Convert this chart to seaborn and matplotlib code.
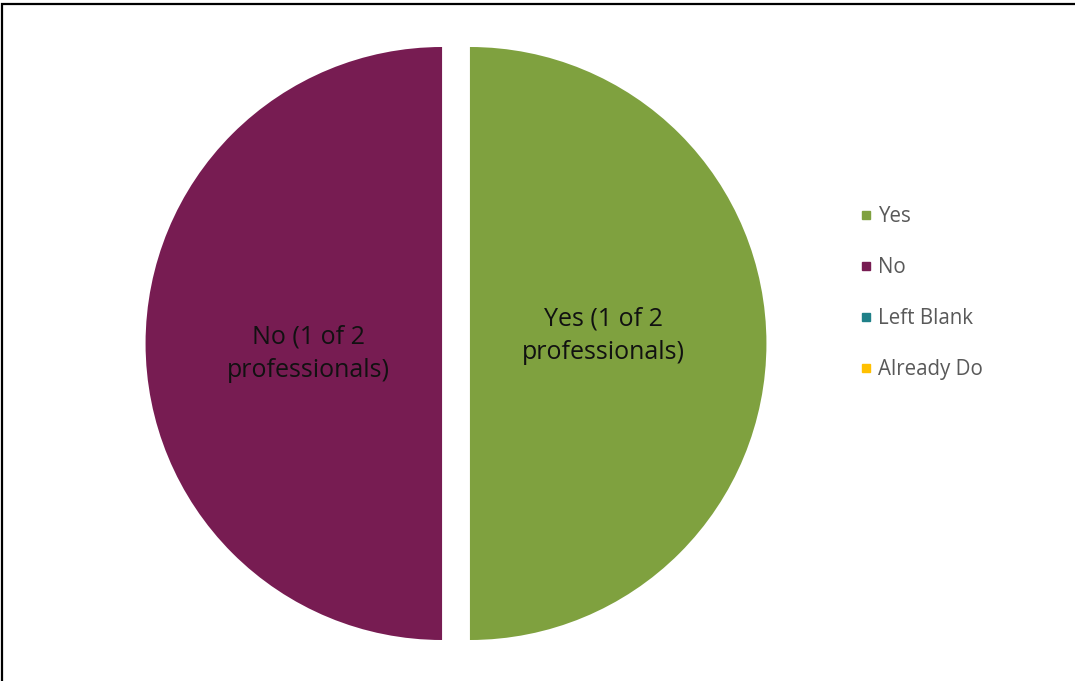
import matplotlib
matplotlib.use("Agg")
import matplotlib.pyplot as plt
from matplotlib.lines import Line2D
from matplotlib.patches import Rectangle
import seaborn as sns

categories = ["Yes", "No", "Left Blank", "Already Do"]
counts = [1, 1, 0, 0]
slice_labels = ["Yes (1 of 2\nprofessionals)", "No (1 of 2\nprofessionals)", "", ""]
colors = ["#7FA13F", "#771C52", "#1F8088", "#FFC000"]

sns.set_theme(style="white")
plt.rcParams['font.family'] = ['Open Sans', 'DejaVu Sans']

W, H = 1075, 681
fig = plt.figure(figsize=(W / 100, H / 100), dpi=100)
fig.patch.set_facecolor("white")

r_px = 296.5
cx, cy = 456, H - 343.5
half = 1.1 * r_px
ax = fig.add_axes([(cx - half) / W, (cy - half) / H, 2 * half / W, 2 * half / H])

palette = sns.color_palette(colors)
wedges, texts = ax.pie(
    counts, labels=slice_labels, colors=palette, startangle=90, counterclock=False,
    explode=[0.047, 0.047, 0.047, 0.047], labeldistance=0.45,
    wedgeprops=dict(linewidth=0), textprops=dict(fontsize=18, color="#111111"),
)
for t in texts:
    t.set_horizontalalignment("center")
    t.set_verticalalignment("center")
    t.set_multialignment("center")
    t.set_linespacing(1.45)
texts[0].set_y(texts[0].get_position()[1] + 0.025)
texts[1].set_y(texts[1].get_position()[1] - 0.035)
ax.set_xlim(-1.1, 1.1)
ax.set_ylim(-1.1, 1.1)
ax.set_aspect("equal")
ax.axis("off")

handles = [Line2D([0], [0], marker="s", linestyle="none", markersize=6,
                  markerfacecolor=c, markeredgecolor=c) for c in palette]
fig.legend(handles, categories, loc="upper left", bbox_to_anchor=(860 / W, 1 - 206 / H),
           frameon=False, fontsize=14.8, labelcolor="#595959", handlelength=0.6,
           handletextpad=0.27, labelspacing=1.46, borderaxespad=0, borderpad=0)

fig.add_artist(Rectangle((1.5 / W, -0.05), 1.1, 1 - 4 / H + 0.05, transform=fig.transFigure,
                         fill=False, edgecolor="black", linewidth=1.6))

fig.savefig("out.png", dpi=100, facecolor="white")
